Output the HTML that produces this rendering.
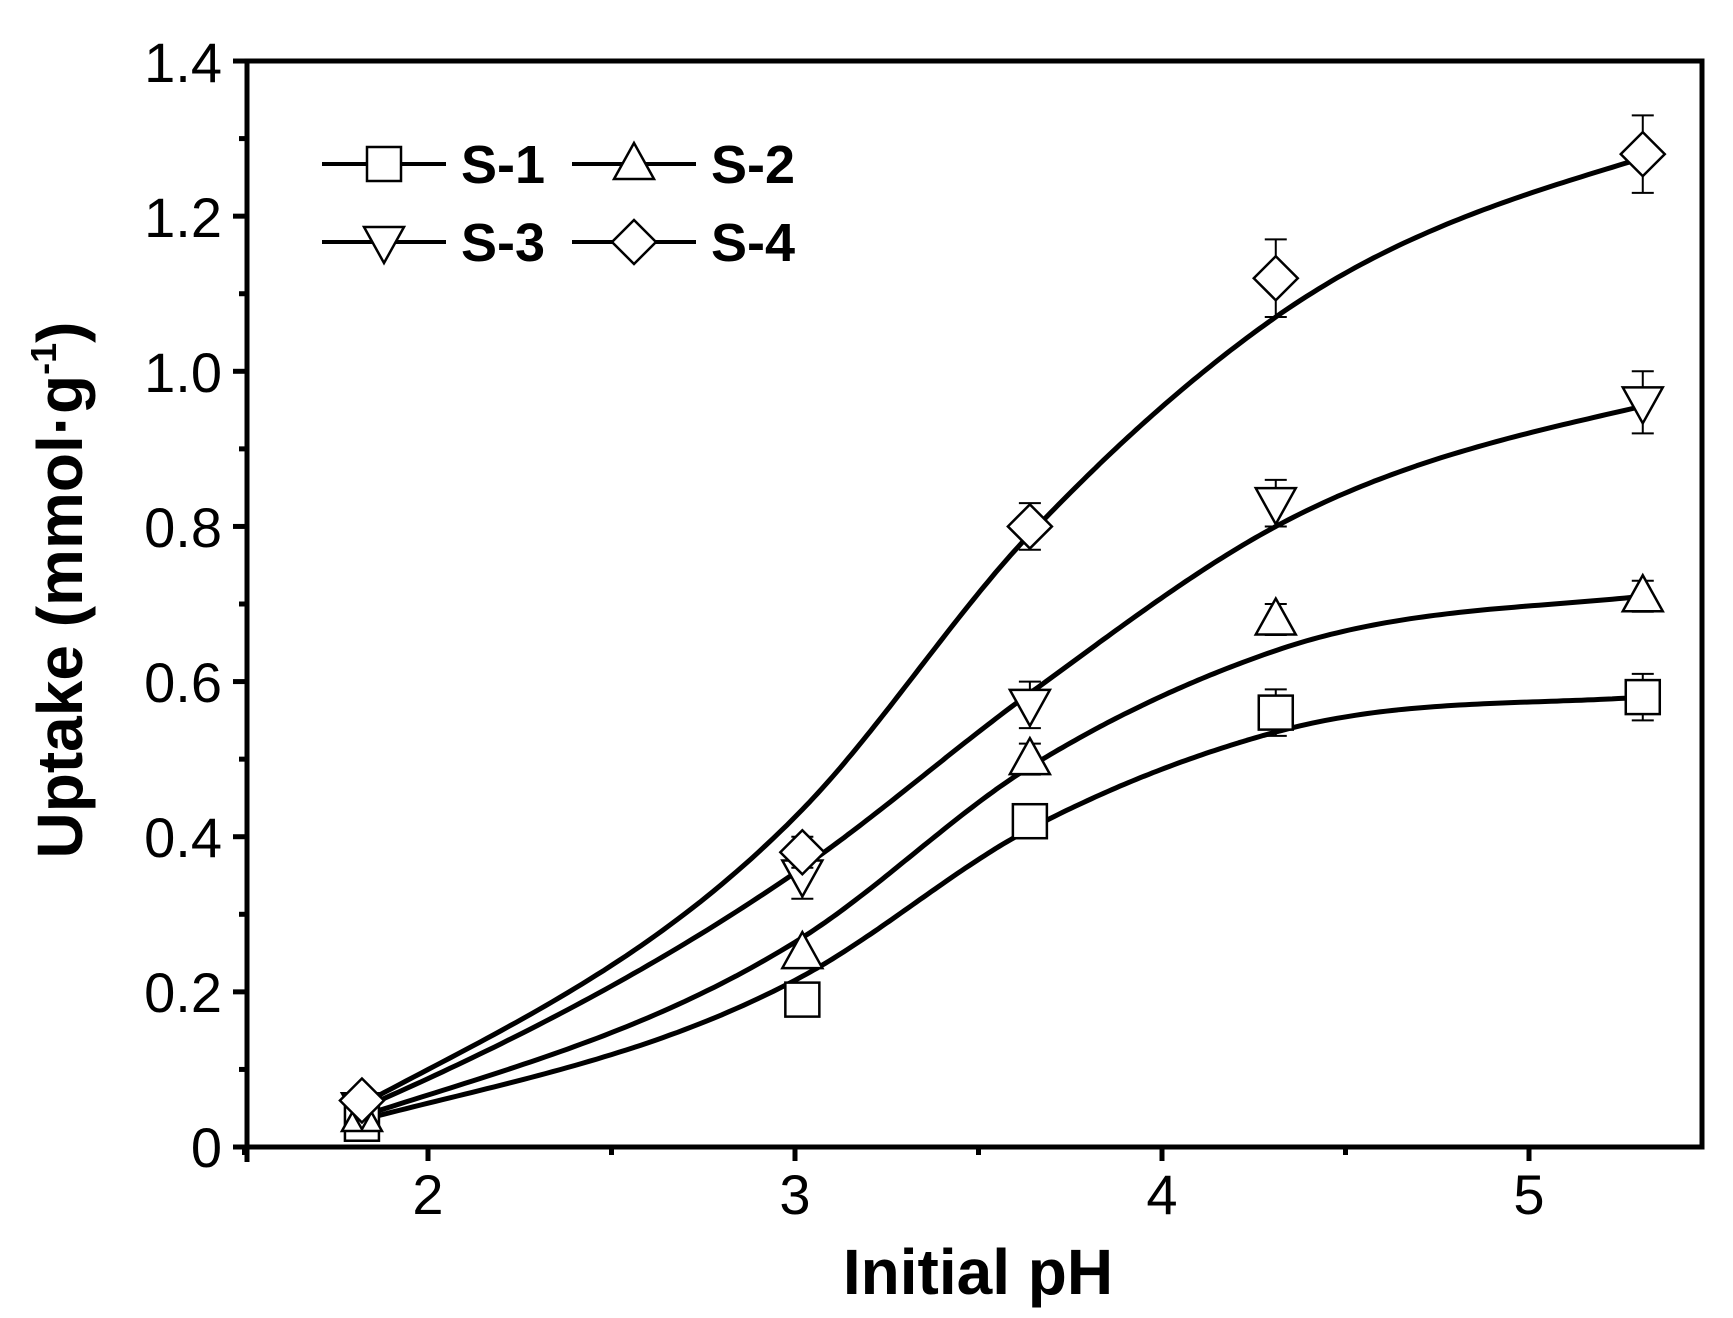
<!DOCTYPE html>
<html><head><meta charset="utf-8"><style>
html,body{margin:0;padding:0;background:#fff;width:1733px;height:1318px;overflow:hidden}
svg text{font-family:"Liberation Sans",Arial,sans-serif}
</style></head><body>
<svg id="s" width="1733" height="1318" viewBox="0 0 1733 1318" xmlns="http://www.w3.org/2000/svg">
<g id="plot" fill="none" stroke="#000"></g>
<g font-size="56" text-anchor="end" fill="#000">
<text x="222" y="1167">0</text>
<text x="222" y="1012">0.2</text>
<text x="222" y="857">0.4</text>
<text x="222" y="702">0.6</text>
<text x="222" y="547">0.8</text>
<text x="222" y="392">1.0</text>
<text x="222" y="237">1.2</text>
<text x="222" y="82">1.4</text>
</g>
<g font-size="56" text-anchor="middle" fill="#000">
<text x="428" y="1214">2</text>
<text x="795" y="1214">3</text>
<text x="1162" y="1214">4</text>
<text x="1529" y="1214">5</text>
</g>
<text x="978" y="1294" font-size="64" font-weight="bold" text-anchor="middle">Initial pH</text>
<text transform="translate(82,590) rotate(-90)" font-size="64" font-weight="bold" text-anchor="middle">Uptake (mmol·g<tspan dy="-26" font-size="36">-1</tspan><tspan dy="26">)</tspan></text>
<g font-size="54" font-weight="bold" fill="#000">
<text x="461" y="183">S-1</text>
<text x="711" y="183">S-2</text>
<text x="461" y="261">S-3</text>
<text x="711" y="261">S-4</text>
</g>
</svg>
<script>
const g=document.getElementById('plot');
const X=v=>428+367*(v-2), Y=v=>1147-775.7*v;
let h='';
h+=`<rect x="247" y="61" width="1455" height="1086" stroke-width="5"/>`;
for(let v=0;v<=1.4001;v+=0.1){const y=Y(v);const maj=Math.round(v*10)%2==0;h+=`<line x1="${maj?233:239}" x2="247" y1="${y}" y2="${y}" stroke-width="5"/>`;}
for(let v=1.5;v<=5.3;v+=0.5){const x=X(v);const maj=Math.abs(v-Math.round(v))<0.01;h+=`<line x1="${x}" x2="${x}" y1="1147" y2="${maj?1161:1155}" stroke-width="5"/>`;}
h+=`<line x1="247" x2="247" y1="1147" y2="1162" stroke-width="5"/>`;
const xs=[1.82,3.02,3.64,4.31,5.31];
const fx=xs;
const fits=[[0.035,0.22,0.41,0.535,0.58],
[0.04,0.27,0.49,0.64,0.71],
[0.05,0.36,0.585,0.80,0.955],
[0.055,0.435,0.79,1.07,1.275]];
const pts=[[0.03,0.19,0.42,0.56,0.58],[0.04,0.25,0.50,0.68,0.71],[0.05,0.35,0.57,0.83,0.96],[0.06,0.38,0.80,1.12,1.28]];
const errs=[[0,0,0.02,0.03,0.03],[0,0,0.02,0.02,0.02],[0,0.03,0.03,0.03,0.04],[0,0.02,0.03,0.05,0.05]];
function curve(xv,yv){
 const n=xv.length,m=[];
 for(let i=0;i<n;i++){
  if(i==0)m.push(0.8*(yv[1]-yv[0])/(xv[1]-xv[0]));
  else if(i==n-1)m.push(0.7*(yv[n-1]-yv[n-2])/(xv[n-1]-xv[n-2]));
  else{const d0=(yv[i]-yv[i-1])/(xv[i]-xv[i-1]),d1=(yv[i+1]-yv[i])/(xv[i+1]-xv[i]);
   const h0=xv[i]-xv[i-1],h1=xv[i+1]-xv[i];m.push((d0*h1+d1*h0)/(h0+h1));}
 }
 let d='';
 for(let i=0;i<n-1;i++){const hh=xv[i+1]-xv[i];
  for(let k=0;k<=60;k++){const t=k/60,t2=t*t,t3=t2*t;
   const y=(2*t3-3*t2+1)*yv[i]+(t3-2*t2+t)*hh*m[i]+(-2*t3+3*t2)*yv[i+1]+(t3-t2)*hh*m[i+1];
   const x=xv[i]+t*hh;
   d+=(d?'L':'M')+X(x).toFixed(1)+','+Y(y).toFixed(1);}
 }
 return d;
}
function marker(t,x,y){
 if(t==0)return `<rect x="${x-17}" y="${y-17}" width="34" height="34" fill="#fff" stroke-width="2.5"/>`;
 if(t==1)return `<polygon points="${x},${y-21} ${x+20},${y+15} ${x-20},${y+15}" fill="#fff" stroke-width="2.5"/>`;
 if(t==2)return `<polygon points="${x},${y+21} ${x+20},${y-15} ${x-20},${y-15}" fill="#fff" stroke-width="2.5"/>`;
 return `<polygon points="${x},${y-22} ${x+22},${y} ${x},${y+22} ${x-22},${y}" fill="#fff" stroke-width="2.5"/>`;
}
for(let s=0;s<4;s++){h+=`<path d="${curve(fx,fits[s])}" stroke-width="5" stroke-linejoin="round"/>`;}
for(let s=0;s<4;s++)for(let i=0;i<5;i++){const x=X(xs[i]),y=Y(pts[s][i]),e=errs[s][i]*775.7;
 if(e>0)h+=`<path d="M${x},${y-e}V${y+e}M${x-11},${y-e}H${x+11}M${x-11},${y+e}H${x+11}" stroke-width="2"/>`;
 h+=marker(s,x,y);}
const L=[[322,164,0],[572,164,1],[322,242,2],[572,242,3]];
for(const [x,y,t] of L){h+=`<line x1="${x}" x2="${x+124}" y1="${y}" y2="${y}" stroke-width="4"/>`;h+=marker(t,x+62,y);}
g.innerHTML=h;
</script>
</body></html>
